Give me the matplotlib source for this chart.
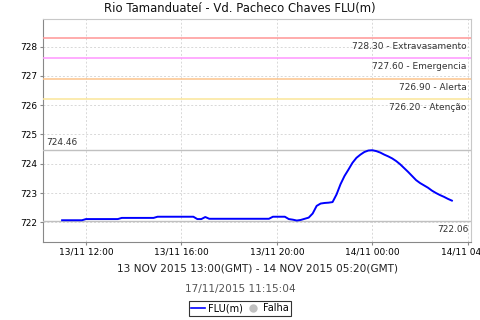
import matplotlib
matplotlib.use("Agg")
import matplotlib.pyplot as plt
import matplotlib.dates as mdates
import pandas as pd
from matplotlib.lines import Line2D

plt.rcParams['font.family'] = ['DejaVu Sans']

title = "Rio Tamanduateí - Vd. Pacheco Chaves FLU(m)"
subtitle = "13 NOV 2015 13:00(GMT) - 14 NOV 2015 05:20(GMT)"
stamp = "17/11/2015 11:15:04"

times = pd.date_range("2015-11-13 11:00", "2015-11-14 03:20", freq="10min")
flu = [
    722.07, 722.07, 722.07, 722.07, 722.07, 722.07,           # 11:00-11:50
    722.11, 722.11, 722.11, 722.11, 722.11, 722.11,           # 12:00-12:50
    722.11, 722.11, 722.11, 722.15, 722.15, 722.15,           # 13:00-13:50
    722.15, 722.15, 722.15, 722.15, 722.15, 722.15,           # 14:00-14:50
    722.19, 722.19, 722.19, 722.19, 722.19, 722.19,           # 15:00-15:50
    722.19, 722.19, 722.19, 722.19, 722.11, 722.11,           # 16:00-16:50
    722.18, 722.12, 722.12, 722.12, 722.12, 722.12,           # 17:00-17:50
    722.12, 722.12, 722.12, 722.12, 722.12, 722.12,           # 18:00-18:50
    722.12, 722.12, 722.12, 722.12, 722.12, 722.19,           # 19:00-19:50
    722.19, 722.19, 722.19, 722.11, 722.09, 722.06,           # 20:00-20:50
    722.08, 722.12, 722.16, 722.30, 722.56, 722.64,           # 21:00-21:50
    722.66, 722.67, 722.69, 722.95, 723.30, 723.58,           # 22:00-22:50
    723.80, 724.03, 724.20, 724.31, 724.40, 724.45,           # 23:00-23:50
    724.46, 724.43, 724.38, 724.31, 724.25, 724.18,           # 00:00-00:50
    724.09, 723.98, 723.85, 723.72, 723.58, 723.44,           # 01:00-01:50
    723.34, 723.26, 723.18, 723.08, 723.00, 722.93,           # 02:00-02:50
    722.87, 722.80, 722.74,                                   # 03:00-03:20
]

thr_values = [728.30, 727.60, 726.90, 726.20]
thr_names = ["Extravasamento", "Emergencia", "Alerta", "Atenção"]
thr_colors = ["#ff9696", "#ff96ff", "#fcc48c", "#fbe698"]

max_val = 724.46
min_val = 722.06

xticks = pd.to_datetime(["2015-11-13 12:00", "2015-11-13 16:00", "2015-11-13 20:00",
                         "2015-11-14 00:00", "2015-11-14 04:00"])
yticks = [722, 723, 724, 725, 726, 727, 728]

fig = plt.figure(figsize=(4.8, 3.2), dpi=100)
ax = fig.add_axes([0.0896, 0.244, 0.8916, 0.6966])

ax.plot(times, flu, color="#0000ff", lw=1.4, zorder=5)
ax.margins(x=0.049)
ax.set_ylim(721.33, 728.94)

for v, n, c in zip(thr_values, thr_names, thr_colors):
    ax.axhline(v, color=c, lw=1.1, zorder=3)
    ax.annotate(f"{v:.2f} - {n}", xy=(1, v), xycoords=("axes fraction", "data"),
                xytext=(-3, -3), textcoords="offset points", ha="right", va="top",
                fontsize=6.5, color="#333333")

ax.axhline(max_val, color="#c0c0c0", lw=1.0, zorder=3)
ax.annotate(f"{max_val:.2f}", xy=(0, max_val), xycoords=("axes fraction", "data"),
            xytext=(2, 2), textcoords="offset points", ha="left", va="bottom",
            fontsize=6.5, color="#333333")
ax.axhline(min_val, color="#c0c0c0", lw=1.0, zorder=3)
ax.annotate(f"{min_val:.2f}", xy=(1, min_val), xycoords=("axes fraction", "data"),
            xytext=(-2, -3), textcoords="offset points", ha="right", va="top",
            fontsize=6.5, color="#333333")

ax.set_xticks(xticks)
ax.xaxis.set_major_formatter(mdates.DateFormatter("%d/%m %H:%M"))
ax.set_yticks(yticks)
ax.tick_params(axis="both", labelsize=6.5, length=2, color="#888888", pad=2)
ax.grid(True, color="#d8d8d8", ls=(0, (2, 2)), lw=0.7)

for s in ["left", "bottom"]:
    ax.spines[s].set_color("#888888")
for s in ["top", "right"]:
    ax.spines[s].set_color("#c8c8c8")

fig.text(0.5, 0.972, title, ha="center", va="center", fontsize=8.4, color="#111111")
fig.text(0.536, 0.16, subtitle, ha="center", va="center", fontsize=7.6, color="#222222")
fig.text(0.5, 0.097, stamp, ha="center", va="center", fontsize=7.6, color="#555555")

handles = [Line2D([], [], color="#0000ff", lw=1.2),
           Line2D([], [], marker="o", ls="none", color="#c0c0c0", markersize=5)]
leg = fig.legend(handles, ["FLU(m)", "Falha"], loc="center", bbox_to_anchor=(0.5, 0.037),
                 ncol=2, fontsize=7, frameon=True, fancybox=False, handlelength=1.4,
                 handletextpad=0.3, columnspacing=0.4, borderpad=0.25, borderaxespad=0)
leg.get_frame().set_edgecolor("#000000")
leg.get_frame().set_linewidth(0.8)

fig.savefig("out.png", dpi=100)
